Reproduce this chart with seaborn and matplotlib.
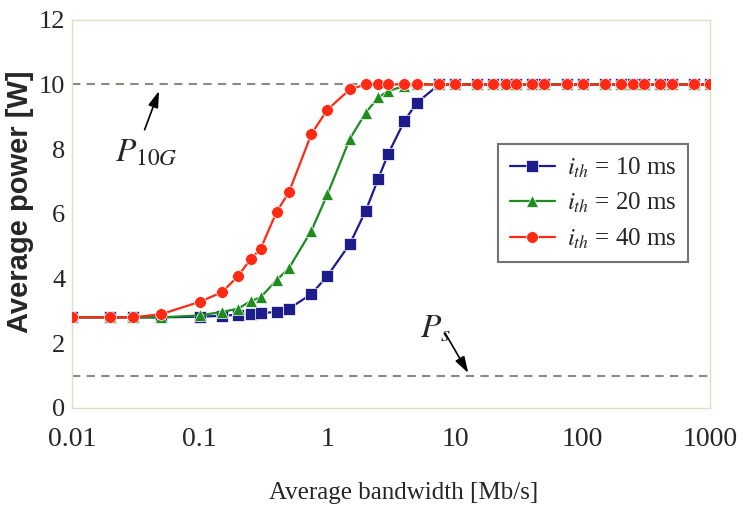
import numpy as np
import pandas as pd
import seaborn as sns
import matplotlib.pyplot as plt
from matplotlib.ticker import FixedLocator, FixedFormatter, NullLocator

# Data
bandwidth = [0.01, 0.02, 0.03, 0.05, 0.1, 0.15, 0.2, 0.25, 0.3, 0.4, 0.5, 0.75,
             1, 1.5, 2, 2.5, 3, 4, 5, 7.5, 10, 15, 20, 25, 30, 40, 50, 75,
             100, 150, 200, 250, 300, 400, 500, 750, 1000]
power_10ms = [2.8, 2.8, 2.8, 2.8, 2.82, 2.85, 2.88, 2.9, 2.93, 2.97, 3.07, 3.52,
              4.08, 5.07, 6.1, 7.08, 7.86, 8.86, 9.43, 10, 10, 10, 10, 10, 10, 10, 10, 10,
              10, 10, 10, 10, 10, 10, 10, 10, 10]
power_20ms = [2.8, 2.8, 2.8, 2.8, 2.86, 2.97, 3.07, 3.3, 3.42, 3.95, 4.32, 5.48,
              6.6, 8.32, 9.13, 9.6, 9.8, 9.95, 10, 10, 10, 10, 10, 10, 10, 10, 10, 10,
              10, 10, 10, 10, 10, 10, 10, 10, 10]
power_40ms = [2.8, 2.8, 2.8, 2.9, 3.28, 3.58, 4.08, 4.6, 4.92, 6.06, 6.67, 8.47,
              9.22, 9.85, 10, 10, 10, 10, 10, 10, 10, 10, 10, 10, 10, 10, 10, 10,
              10, 10, 10, 10, 10, 10, 10, 10, 10]
labels = ["$i_{th}$ = 10 ms", "$i_{th}$ = 20 ms", "$i_{th}$ = 40 ms"]
colors = ["#1c1c8a", "#1e8c1e", "#ff2a14"]
markers = ["s", "^", "o"]
p_10g = 10
p_s = 1

df = pd.concat([
    pd.DataFrame({"bw": bandwidth, "power": vals, "series": lab})
    for vals, lab in zip([power_10ms, power_20ms, power_40ms], labels)
])

sns.set_style("white")
plt.rcParams["font.family"] = ["Liberation Serif", "DejaVu Serif"]
plt.rcParams["mathtext.fontset"] = "stix"

fig = plt.figure(figsize=(7.43, 5.08), dpi=100)
ax = fig.add_axes([0.097, 0.197, 0.859, 0.764])

ax.axhline(p_10g, color="#8a8a80", ls=(0, (4, 3)), lw=1.5, zorder=1)
ax.axhline(p_s, color="#8a8a80", ls=(0, (4, 3)), lw=1.5, zorder=1)

sns.lineplot(data=df, x="bw", y="power", hue="series", style="series",
             palette=dict(zip(labels, colors)), markers=dict(zip(labels, markers)),
             dashes=False, markersize=8.5, markeredgewidth=0.5, linewidth=1.6,
             ax=ax, zorder=3)

ax.set_xscale("log")
ax.set_xlim(0.01, 1000)
ax.set_ylim(0, 12)
ax.xaxis.set_major_locator(FixedLocator([0.01, 0.1, 1, 10, 100, 1000]))
ax.xaxis.set_major_formatter(FixedFormatter(["0.01", "0.1", "1", "10", "100", "1000"]))
ax.xaxis.set_minor_locator(NullLocator())
ax.set_yticks([0, 2, 4, 6, 8, 10, 12])
ax.tick_params(axis="both", direction="in", length=3, color="#e6dcc4")
ax.tick_params(axis="x", labelsize=20, pad=14)
ax.tick_params(axis="y", labelsize=19, pad=5)

for sp in ax.spines.values():
    sp.set_color("#e6dcc4")
    sp.set_linewidth(1.0)

ax.set_xlabel("Average bandwidth [Mb/s]", fontsize=18)
ax.xaxis.set_label_coords(0.52, -0.19)
ax.set_ylabel("Average power [W]", fontsize=21, fontweight="bold",
              family=["Liberation Sans", "DejaVu Sans"])
ax.yaxis.set_label_coords(-0.06, 0.53)

# annotations for the two reference power levels
arrow = dict(arrowstyle="-|>,head_length=0.7,head_width=0.22", color="black",
             lw=1.2, shrinkA=0, shrinkB=0, mutation_scale=14)
ax.text(0.0215, 7.9, "$P_{10G}$", fontsize=24, ha="left", va="center")
ax.annotate("", xy=(0.048, 9.8), xytext=(0.037, 8.6), arrowprops=arrow)
ax.text(5.3, 2.42, "$P_s$", fontsize=24, ha="left", va="center")
ax.annotate("", xy=(12.7, 1.08), xytext=(8.4, 2.3), arrowprops=arrow)

leg = ax.legend(loc="upper left", bbox_to_anchor=(0.668, 0.68), fontsize=18,
                frameon=True, fancybox=False, edgecolor="#505050",
                handlelength=1.8, handletextpad=0.5, borderpad=0.45,
                labelspacing=0.45, borderaxespad=0, title=None)
leg.get_frame().set_linewidth(1.5)

plt.savefig("out.png", dpi=100)
plt.close()
